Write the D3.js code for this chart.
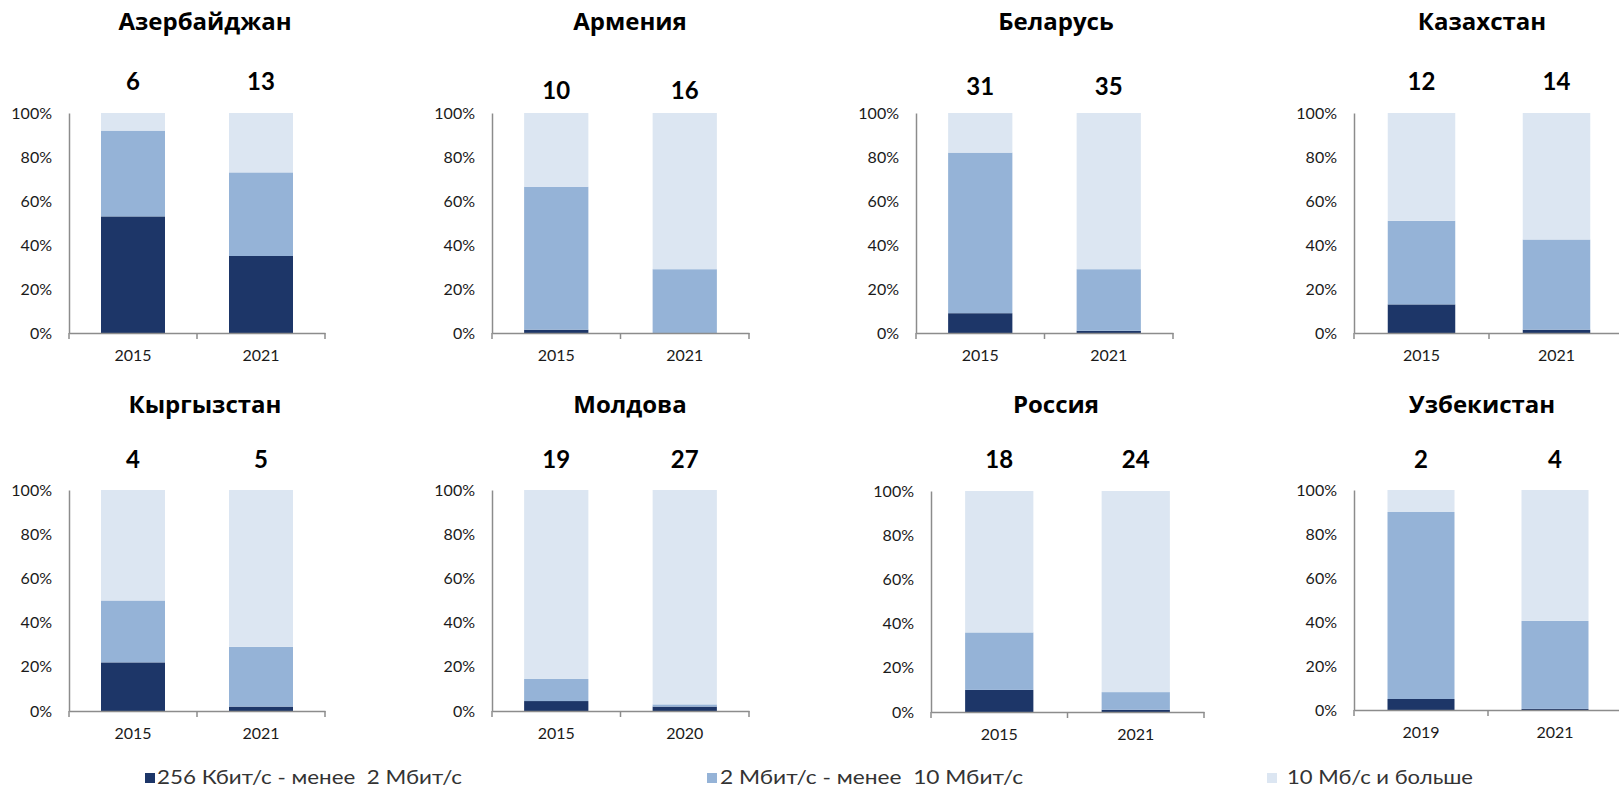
<!DOCTYPE html>
<html>
<head>
<meta charset="utf-8">
<script src="https://cdn.jsdelivr.net/npm/d3@7"></script>
<style>
  html, body { margin: 0; padding: 0; background: #ffffff; }
  svg { display: block; }
  text { font-family: Lato, "Open Sans", sans-serif; }
</style>
</head>
<body>
<svg id="chart" width="1619" height="791"></svg>
<script>
// ---------- data ----------
const countries = ["Азербайджан", "Армения", "Беларусь", "Казахстан",
                   "Кыргызстан", "Молдова", "Россия", "Узбекистан"];
const years = [["2015","2021"],["2015","2021"],["2015","2021"],["2015","2021"],
               ["2015","2021"],["2015","2020"],["2015","2021"],["2019","2021"]];
const totals = [[6,13],[10,16],[31,35],[12,14],[4,5],[19,27],[18,24],[2,4]];
const seriesNames = ["256 Кбит/с - менее  2 Мбит/с", "2 Мбит/с - менее  10 Мбит/с", "10 Мб/с и больше"];
const slowShare = [[53,35],[1.5,0],[9,1],[13,1.5],[22,2],[4.5,2],[10,1],[5,0.5]];
const midShare  = [[39,38],[65,29],[73,28],[38,41],[28,27],[10,1],[26,8],[85,40]];
const fastShare = [[8,27],[33.5,71],[18,71],[49,57.5],[50,71],[85.5,97],[64,91],[10,59.5]];
const yTicks = [0,20,40,60,80,100];

// ---------- layout ----------
const colors = ["#1d3668", "#95b3d7", "#dce6f2"];
const panels = [
  {x0:69,  x1:325,  top:113, bottom:333, titleX:205,  titleY:30,  totY:90},
  {x0:492, x1:749,  top:113, bottom:333, titleX:630,  titleY:30,  totY:99},
  {x0:916, x1:1173, top:113, bottom:333, titleX:1056, titleY:30,  totY:95},
  {x0:1354,x1:1624, top:113, bottom:333, titleX:1482, titleY:30,  totY:90},
  {x0:69,  x1:325,  top:490, bottom:711, titleX:205,  titleY:413, totY:468},
  {x0:492, x1:749,  top:490, bottom:711, titleX:630,  titleY:413, totY:468},
  {x0:931, x1:1204, top:491, bottom:712, titleX:1056, titleY:413, totY:468},
  {x0:1354,x1:1622, top:490, bottom:710, titleX:1482, titleY:413, totY:468}
];
const legendPos = [{sx:145, tx:157, w:305}, {sx:707, tx:720, w:303}, {sx:1267, tx:1287, w:186}];
const legendY = 778;

const svg = d3.select("#chart");

countries.forEach((name, i) => {
  const p = panels[i];
  const g = svg.append("g");
  const x = d3.scaleBand().domain(years[i]).range([p.x0, p.x1])
              .paddingInner(0.5).paddingOuter(0.25);
  const y = d3.scaleLinear().domain([0, 100]).range([p.bottom, p.top]);

  const rows = years[i].map((yr, j) => ({year: yr, s0: slowShare[i][j], s1: midShare[i][j], s2: fastShare[i][j]}));
  const stack = d3.stack().keys(["s0","s1","s2"])(rows);

  stack.forEach((layer, k) => {
    g.selectAll(null).data(layer).enter().append("rect")
      .attr("x", d => x(d.data.year))
      .attr("width", x.bandwidth())
      .attr("y", d => y(d[1]))
      .attr("height", d => Math.max(0, y(d[0]) - y(d[1])))
      .attr("fill", colors[k]);
  });

  // y axis (line + labels, no tick marks)
  const yAxis = g.append("g").attr("transform", `translate(${p.x0},0)`)
    .call(d3.axisLeft(y).tickValues(yTicks).tickFormat(d => d + "%").tickSize(0).tickPadding(17));
  yAxis.select(".domain").attr("stroke", "#8c8c8c").attr("stroke-width", 1.5);
  yAxis.selectAll("text").attr("font-size", 16).attr("fill", "#1a1a1a");

  // x axis with boundary ticks
  const xAxis = g.append("g").attr("transform", `translate(0,${p.bottom})`)
    .call(d3.axisBottom(x).tickSize(0).tickPadding(17));
  xAxis.select(".domain").attr("stroke", "#8c8c8c").attr("stroke-width", 1.5);
  xAxis.selectAll("text").attr("font-size", 16).attr("fill", "#1a1a1a");
  const bounds = [p.x0, (p.x0 + p.x1) / 2, p.x1];
  g.selectAll(null).data(bounds).enter().append("line")
    .attr("x1", d => d).attr("x2", d => d)
    .attr("y1", p.bottom).attr("y2", p.bottom + 6)
    .attr("stroke", "#8c8c8c").attr("stroke-width", 1.5);

  // title
  g.append("text").attr("x", p.titleX).attr("y", p.titleY)
    .attr("text-anchor", "middle").attr("font-size", 24).attr("font-weight", 700)
    .style("font-family", "'Open Sans', Lato, sans-serif")
    .attr("fill", "#000").text(name);

  // totals
  g.selectAll(null).data(years[i]).enter().append("text")
    .attr("x", d => x(d) + x.bandwidth() / 2)
    .attr("y", p.totY)
    .attr("text-anchor", "middle").attr("font-size", 24).attr("font-weight", 700)
    .attr("fill", "#000")
    .text((d, j) => totals[i][j]);
});

// legend
const lg = svg.append("g");
seriesNames.forEach((s, k) => {
  lg.append("rect").attr("x", legendPos[k].sx).attr("y", legendY - 5)
    .attr("width", 10).attr("height", 10).attr("fill", colors[k]);
  lg.append("text").attr("x", legendPos[k].tx).attr("y", legendY + 6)
    .attr("font-size", 19).attr("fill", "#333").style("white-space", "pre")
    .attr("textLength", legendPos[k].w).attr("lengthAdjust", "spacingAndGlyphs")
    .text(s);
});
</script>
</body>
</html>
